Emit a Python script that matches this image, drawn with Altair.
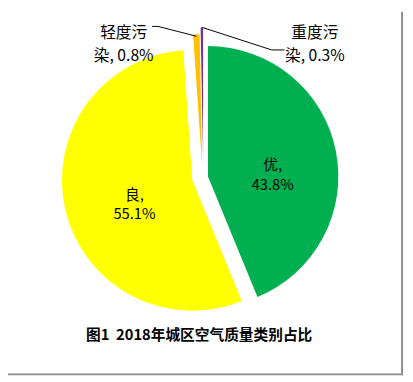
import altair as alt
import pandas as pd

# ---- data ----
categories = ["优", "良", "轻度污染", "重度污染"]
shares = [43.8, 55.1, 0.8, 0.3]
colors = ["#00B050", "#FFFF00", "#FFC000", "#7030A0"]
label_split = [2, 2, 3, 3]  # character index where the label wraps
title_text = "图1\u00a0\u00a02018年城区空气质量类别占比"

labels = []
for c, v, k in zip(categories, shares, label_split):
    s = f"{c}, {v}%"
    labels.append(s[:k].strip() + "\n" + s[k:].strip())

df = pd.DataFrame({"idx": list(range(len(categories))), "cat": categories,
                   "share": shares, "label": labels})
total = float(sum(shares))

FONT = "Noto Sans CJK SC"
R = 133
# layout (chart pixel coords): slice centres after explosion
centres = [(204, 168), (188, 172), (198, 156), (199, 149)]
label_pos = [(270, 157, 20, 15), (129, 187, 20, 15), (118, 22, 23, 16), (313, 22, 23, 16)]

base = alt.Chart(df).transform_window(
    cum="sum(share)", sort=[alt.SortField("idx", order="ascending")],
    frame=[None, 0]
).transform_calculate(start="datum.cum - datum.share")

color_scale = alt.Scale(domain=categories, range=colors)
theta_scale = alt.Scale(domain=[0, total], range=[0, 6.283185307])

layers = []
for i, c in enumerate(categories):
    cx, cy = centres[i]
    layers.append(
        base.transform_filter(alt.datum.idx == i).mark_arc(outerRadius=R).encode(
            theta=alt.Theta("start:Q", scale=theta_scale),
            theta2="cum:Q",
            color=alt.Color("cat:N", scale=color_scale, legend=None),
            x=alt.value(cx), y=alt.value(cy),
        )
    )

for i, c in enumerate(categories):
    lx, ly, lh, fs = label_pos[i]
    layers.append(
        alt.Chart(df).transform_filter(alt.datum.idx == i).mark_text(
            font=FONT, fontSize=fs, lineBreak="\n", lineHeight=lh,
            align="center", baseline="middle", color="#000000"
        ).encode(text="label:N", x=alt.value(lx), y=alt.value(ly))
    )

# leader lines
segs = [((147, 15), (153, 15)), ((153, 15), (192, 25)),
        ((198, 16), (269, 39)), ((269, 39), (282, 39))]
for (x1, y1), (x2, y2) in segs:
    layers.append(
        alt.Chart(df).transform_filter(alt.datum.idx == 0).mark_rule(
            color="#000000", strokeWidth=1
        ).encode(x=alt.value(x1), y=alt.value(y1), x2=alt.value(x2), y2=alt.value(y2))
    )

# title
layers.append(
    alt.Chart(df).transform_filter(alt.datum.idx == 0).mark_text(
        font=FONT, fontSize=15, fontWeight="bold", align="center", baseline="middle",
        color="#000000"
    ).encode(text=alt.value(title_text), x=alt.value(195), y=alt.value(330))
)

# frame shadow (right and bottom)
for (x1, y1), (x2, y2) in [((402, 0), (402, 371)), ((0, 370), (403, 370))]:
    layers.append(
        alt.Chart(df).transform_filter(alt.datum.idx == 0).mark_rule(
            color="#8c8c8c", strokeWidth=2
        ).encode(x=alt.value(x1), y=alt.value(y1), x2=alt.value(x2), y2=alt.value(y2))
    )

chart = alt.layer(*layers).properties(
    width=405, height=374, autosize=alt.AutoSizeParams(type="none"), padding=0,
    background="#ffffff"
).configure_view(stroke=None)

chart.save("out.html", embed_options={"renderer": "svg", "actions": False})
